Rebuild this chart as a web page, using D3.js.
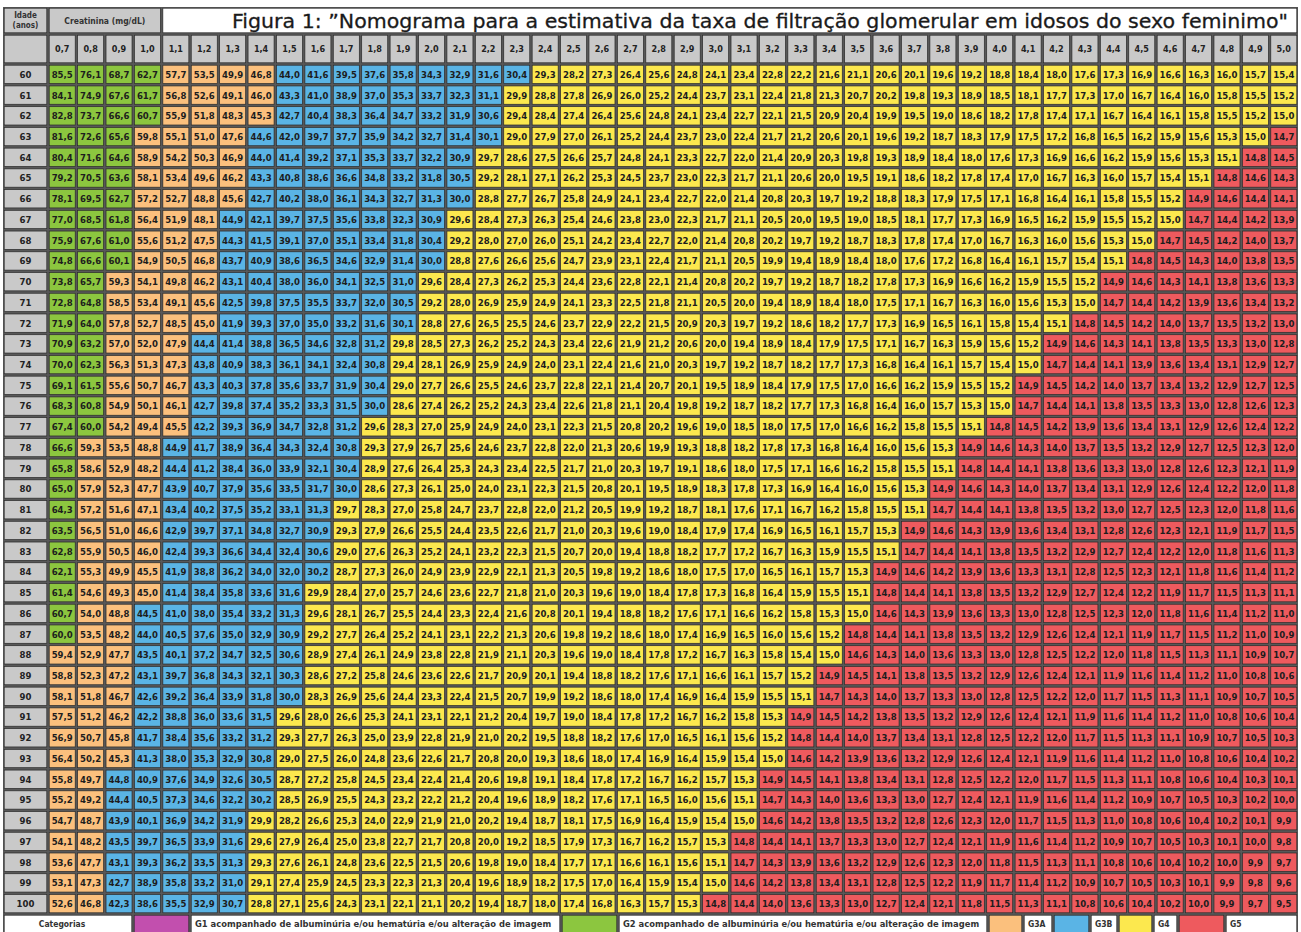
<!DOCTYPE html>
<html>
<head>
<meta charset="utf-8">
<script src="https://cdn.jsdelivr.net/npm/d3@7"></script>
<style>
  body { margin: 0; background: #fff; }
  text { font-family: "DejaVu Sans Condensed", "DejaVu Sans", sans-serif; }
</style>
</head>
<body>
<div id="chart"></div>
<script>
// rows: age (anos), columns: creatinina (mg/dL)
var ages = [60,61,62,63,64,65,66,67,68,69,70,71,72,73,74,75,76,77,78,79,80,
            81,82,83,84,85,86,87,88,89,90,91,92,93,94,95,96,97,98,99,100];
var creatinine = [0.7,0.8,0.9,1.0,1.1,1.2,1.3,1.4,1.5,1.6,1.7,1.8,1.9,2.0,2.1,2.2,2.3,2.4,2.5,2.6,2.7,
                  2.8,2.9,3.0,3.1,3.2,3.3,3.4,3.5,3.6,3.7,3.8,3.9,4.0,4.1,4.2,4.3,4.4,4.5,4.6,4.7,4.8,4.9,5.0];

// TFG estimada, one row per age
var egfr = [
[85.5,76.1,68.7,62.7,57.7,53.5,49.9,46.8,44.0,41.6,39.5,37.6,35.8,34.3,32.9,31.6,30.4,29.3,28.2,27.3,26.4,25.6,24.8,24.1,23.4,22.8,22.2,21.6,21.1,20.6,20.1,19.6,19.2,18.8,18.4,18.0,17.6,17.3,16.9,16.6,16.3,16.0,15.7,15.4],
[84.1,74.9,67.6,61.7,56.8,52.6,49.1,46.0,43.3,41.0,38.9,37.0,35.3,33.7,32.3,31.1,29.9,28.8,27.8,26.9,26.0,25.2,24.4,23.7,23.1,22.4,21.8,21.3,20.7,20.2,19.8,19.3,18.9,18.5,18.1,17.7,17.3,17.0,16.7,16.4,16.0,15.8,15.5,15.2],
[82.8,73.7,66.6,60.7,55.9,51.8,48.3,45.3,42.7,40.4,38.3,36.4,34.7,33.2,31.9,30.6,29.4,28.4,27.4,26.4,25.6,24.8,24.1,23.4,22.7,22.1,21.5,20.9,20.4,19.9,19.5,19.0,18.6,18.2,17.8,17.4,17.1,16.7,16.4,16.1,15.8,15.5,15.2,15.0],
[81.6,72.6,65.6,59.8,55.1,51.0,47.6,44.6,42.0,39.7,37.7,35.9,34.2,32.7,31.4,30.1,29.0,27.9,27.0,26.1,25.2,24.4,23.7,23.0,22.4,21.7,21.2,20.6,20.1,19.6,19.2,18.7,18.3,17.9,17.5,17.2,16.8,16.5,16.2,15.9,15.6,15.3,15.0,14.7],
[80.4,71.6,64.6,58.9,54.2,50.3,46.9,44.0,41.4,39.2,37.1,35.3,33.7,32.2,30.9,29.7,28.6,27.5,26.6,25.7,24.8,24.1,23.3,22.7,22.0,21.4,20.9,20.3,19.8,19.3,18.9,18.4,18.0,17.6,17.3,16.9,16.6,16.2,15.9,15.6,15.3,15.1,14.8,14.5],
[79.2,70.5,63.6,58.1,53.4,49.6,46.2,43.3,40.8,38.6,36.6,34.8,33.2,31.8,30.5,29.2,28.1,27.1,26.2,25.3,24.5,23.7,23.0,22.3,21.7,21.1,20.6,20.0,19.5,19.1,18.6,18.2,17.8,17.4,17.0,16.7,16.3,16.0,15.7,15.4,15.1,14.8,14.6,14.3],
[78.1,69.5,62.7,57.2,52.7,48.8,45.6,42.7,40.2,38.0,36.1,34.3,32.7,31.3,30.0,28.8,27.7,26.7,25.8,24.9,24.1,23.4,22.7,22.0,21.4,20.8,20.3,19.7,19.2,18.8,18.3,17.9,17.5,17.1,16.8,16.4,16.1,15.8,15.5,15.2,14.9,14.6,14.4,14.1],
[77.0,68.5,61.8,56.4,51.9,48.1,44.9,42.1,39.7,37.5,35.6,33.8,32.3,30.9,29.6,28.4,27.3,26.3,25.4,24.6,23.8,23.0,22.3,21.7,21.1,20.5,20.0,19.5,19.0,18.5,18.1,17.7,17.3,16.9,16.5,16.2,15.9,15.5,15.2,15.0,14.7,14.4,14.2,13.9],
[75.9,67.6,61.0,55.6,51.2,47.5,44.3,41.5,39.1,37.0,35.1,33.4,31.8,30.4,29.2,28.0,27.0,26.0,25.1,24.2,23.4,22.7,22.0,21.4,20.8,20.2,19.7,19.2,18.7,18.3,17.8,17.4,17.0,16.7,16.3,16.0,15.6,15.3,15.0,14.7,14.5,14.2,14.0,13.7],
[74.8,66.6,60.1,54.9,50.5,46.8,43.7,40.9,38.6,36.5,34.6,32.9,31.4,30.0,28.8,27.6,26.6,25.6,24.7,23.9,23.1,22.4,21.7,21.1,20.5,19.9,19.4,18.9,18.4,18.0,17.6,17.2,16.8,16.4,16.1,15.7,15.4,15.1,14.8,14.5,14.3,14.0,13.8,13.5],
[73.8,65.7,59.3,54.1,49.8,46.2,43.1,40.4,38.0,36.0,34.1,32.5,31.0,29.6,28.4,27.3,26.2,25.3,24.4,23.6,22.8,22.1,21.4,20.8,20.2,19.7,19.2,18.7,18.2,17.8,17.3,16.9,16.6,16.2,15.9,15.5,15.2,14.9,14.6,14.3,14.1,13.8,13.6,13.3],
[72.8,64.8,58.5,53.4,49.1,45.6,42.5,39.8,37.5,35.5,33.7,32.0,30.5,29.2,28.0,26.9,25.9,24.9,24.1,23.3,22.5,21.8,21.1,20.5,20.0,19.4,18.9,18.4,18.0,17.5,17.1,16.7,16.3,16.0,15.6,15.3,15.0,14.7,14.4,14.2,13.9,13.6,13.4,13.2],
[71.9,64.0,57.8,52.7,48.5,45.0,41.9,39.3,37.0,35.0,33.2,31.6,30.1,28.8,27.6,26.5,25.5,24.6,23.7,22.9,22.2,21.5,20.9,20.3,19.7,19.2,18.6,18.2,17.7,17.3,16.9,16.5,16.1,15.8,15.4,15.1,14.8,14.5,14.2,14.0,13.7,13.5,13.2,13.0],
[70.9,63.2,57.0,52.0,47.9,44.4,41.4,38.8,36.5,34.6,32.8,31.2,29.8,28.5,27.3,26.2,25.2,24.3,23.4,22.6,21.9,21.2,20.6,20.0,19.4,18.9,18.4,17.9,17.5,17.1,16.7,16.3,15.9,15.6,15.2,14.9,14.6,14.3,14.1,13.8,13.5,13.3,13.0,12.8],
[70.0,62.3,56.3,51.3,47.3,43.8,40.9,38.3,36.1,34.1,32.4,30.8,29.4,28.1,26.9,25.9,24.9,24.0,23.1,22.4,21.6,21.0,20.3,19.7,19.2,18.7,18.2,17.7,17.3,16.8,16.4,16.1,15.7,15.4,15.0,14.7,14.4,14.1,13.9,13.6,13.4,13.1,12.9,12.7],
[69.1,61.5,55.6,50.7,46.7,43.3,40.3,37.8,35.6,33.7,31.9,30.4,29.0,27.7,26.6,25.5,24.6,23.7,22.8,22.1,21.4,20.7,20.1,19.5,18.9,18.4,17.9,17.5,17.0,16.6,16.2,15.9,15.5,15.2,14.9,14.5,14.2,14.0,13.7,13.4,13.2,12.9,12.7,12.5],
[68.3,60.8,54.9,50.1,46.1,42.7,39.8,37.4,35.2,33.3,31.5,30.0,28.6,27.4,26.2,25.2,24.3,23.4,22.6,21.8,21.1,20.4,19.8,19.2,18.7,18.2,17.7,17.3,16.8,16.4,16.0,15.7,15.3,15.0,14.7,14.4,14.1,13.8,13.5,13.3,13.0,12.8,12.6,12.3],
[67.4,60.0,54.2,49.4,45.5,42.2,39.3,36.9,34.7,32.8,31.2,29.6,28.3,27.0,25.9,24.9,24.0,23.1,22.3,21.5,20.8,20.2,19.6,19.0,18.5,18.0,17.5,17.0,16.6,16.2,15.8,15.5,15.1,14.8,14.5,14.2,13.9,13.6,13.4,13.1,12.9,12.6,12.4,12.2],
[66.6,59.3,53.5,48.8,44.9,41.7,38.9,36.4,34.3,32.4,30.8,29.3,27.9,26.7,25.6,24.6,23.7,22.8,22.0,21.3,20.6,19.9,19.3,18.8,18.2,17.8,17.3,16.8,16.4,16.0,15.6,15.3,14.9,14.6,14.3,14.0,13.7,13.5,13.2,12.9,12.7,12.5,12.3,12.0],
[65.8,58.6,52.9,48.2,44.4,41.2,38.4,36.0,33.9,32.1,30.4,28.9,27.6,26.4,25.3,24.3,23.4,22.5,21.7,21.0,20.3,19.7,19.1,18.6,18.0,17.5,17.1,16.6,16.2,15.8,15.5,15.1,14.8,14.4,14.1,13.8,13.6,13.3,13.0,12.8,12.6,12.3,12.1,11.9],
[65.0,57.9,52.3,47.7,43.9,40.7,37.9,35.6,33.5,31.7,30.0,28.6,27.3,26.1,25.0,24.0,23.1,22.3,21.5,20.8,20.1,19.5,18.9,18.3,17.8,17.3,16.9,16.4,16.0,15.6,15.3,14.9,14.6,14.3,14.0,13.7,13.4,13.1,12.9,12.6,12.4,12.2,12.0,11.8],
[64.3,57.2,51.6,47.1,43.4,40.2,37.5,35.2,33.1,31.3,29.7,28.3,27.0,25.8,24.7,23.7,22.8,22.0,21.2,20.5,19.9,19.2,18.7,18.1,17.6,17.1,16.7,16.2,15.8,15.5,15.1,14.7,14.4,14.1,13.8,13.5,13.2,13.0,12.7,12.5,12.3,12.0,11.8,11.6],
[63.5,56.5,51.0,46.6,42.9,39.7,37.1,34.8,32.7,30.9,29.3,27.9,26.6,25.5,24.4,23.5,22.6,21.7,21.0,20.3,19.6,19.0,18.4,17.9,17.4,16.9,16.5,16.1,15.7,15.3,14.9,14.6,14.3,13.9,13.6,13.4,13.1,12.8,12.6,12.3,12.1,11.9,11.7,11.5],
[62.8,55.9,50.5,46.0,42.4,39.3,36.6,34.4,32.4,30.6,29.0,27.6,26.3,25.2,24.1,23.2,22.3,21.5,20.7,20.0,19.4,18.8,18.2,17.7,17.2,16.7,16.3,15.9,15.5,15.1,14.7,14.4,14.1,13.8,13.5,13.2,12.9,12.7,12.4,12.2,12.0,11.8,11.6,11.3],
[62.1,55.3,49.9,45.5,41.9,38.8,36.2,34.0,32.0,30.2,28.7,27.3,26.0,24.9,23.9,22.9,22.1,21.3,20.5,19.8,19.2,18.6,18.0,17.5,17.0,16.5,16.1,15.7,15.3,14.9,14.6,14.2,13.9,13.6,13.3,13.1,12.8,12.5,12.3,12.1,11.8,11.6,11.4,11.2],
[61.4,54.6,49.3,45.0,41.4,38.4,35.8,33.6,31.6,29.9,28.4,27.0,25.7,24.6,23.6,22.7,21.8,21.0,20.3,19.6,19.0,18.4,17.8,17.3,16.8,16.4,15.9,15.5,15.1,14.8,14.4,14.1,13.8,13.5,13.2,12.9,12.7,12.4,12.2,11.9,11.7,11.5,11.3,11.1],
[60.7,54.0,48.8,44.5,41.0,38.0,35.4,33.2,31.3,29.6,28.1,26.7,25.5,24.4,23.3,22.4,21.6,20.8,20.1,19.4,18.8,18.2,17.6,17.1,16.6,16.2,15.8,15.3,15.0,14.6,14.3,13.9,13.6,13.3,13.0,12.8,12.5,12.3,12.0,11.8,11.6,11.4,11.2,11.0],
[60.0,53.5,48.2,44.0,40.5,37.6,35.0,32.9,30.9,29.2,27.7,26.4,25.2,24.1,23.1,22.2,21.3,20.6,19.8,19.2,18.6,18.0,17.4,16.9,16.5,16.0,15.6,15.2,14.8,14.4,14.1,13.8,13.5,13.2,12.9,12.6,12.4,12.1,11.9,11.7,11.5,11.2,11.0,10.9],
[59.4,52.9,47.7,43.5,40.1,37.2,34.7,32.5,30.6,28.9,27.4,26.1,24.9,23.8,22.8,21.9,21.1,20.3,19.6,19.0,18.4,17.8,17.2,16.7,16.3,15.8,15.4,15.0,14.6,14.3,14.0,13.6,13.3,13.0,12.8,12.5,12.2,12.0,11.8,11.5,11.3,11.1,10.9,10.7],
[58.8,52.3,47.2,43.1,39.7,36.8,34.3,32.1,30.3,28.6,27.2,25.8,24.6,23.6,22.6,21.7,20.9,20.1,19.4,18.8,18.2,17.6,17.1,16.6,16.1,15.7,15.2,14.9,14.5,14.1,13.8,13.5,13.2,12.9,12.6,12.4,12.1,11.9,11.6,11.4,11.2,11.0,10.8,10.6],
[58.1,51.8,46.7,42.6,39.2,36.4,33.9,31.8,30.0,28.3,26.9,25.6,24.4,23.3,22.4,21.5,20.7,19.9,19.2,18.6,18.0,17.4,16.9,16.4,15.9,15.5,15.1,14.7,14.3,14.0,13.7,13.3,13.0,12.8,12.5,12.2,12.0,11.7,11.5,11.3,11.1,10.9,10.7,10.5],
[57.5,51.2,46.2,42.2,38.8,36.0,33.6,31.5,29.6,28.0,26.6,25.3,24.1,23.1,22.1,21.2,20.4,19.7,19.0,18.4,17.8,17.2,16.7,16.2,15.8,15.3,14.9,14.5,14.2,13.8,13.5,13.2,12.9,12.6,12.4,12.1,11.9,11.6,11.4,11.2,11.0,10.8,10.6,10.4],
[56.9,50.7,45.8,41.7,38.4,35.6,33.2,31.2,29.3,27.7,26.3,25.0,23.9,22.8,21.9,21.0,20.2,19.5,18.8,18.2,17.6,17.0,16.5,16.1,15.6,15.2,14.8,14.4,14.0,13.7,13.4,13.1,12.8,12.5,12.2,12.0,11.7,11.5,11.3,11.1,10.9,10.7,10.5,10.3],
[56.4,50.2,45.3,41.3,38.0,35.3,32.9,30.8,29.0,27.5,26.0,24.8,23.6,22.6,21.7,20.8,20.0,19.3,18.6,18.0,17.4,16.9,16.4,15.9,15.4,15.0,14.6,14.2,13.9,13.6,13.2,12.9,12.6,12.4,12.1,11.9,11.6,11.4,11.2,11.0,10.8,10.6,10.4,10.2],
[55.8,49.7,44.8,40.9,37.6,34.9,32.6,30.5,28.7,27.2,25.8,24.5,23.4,22.4,21.4,20.6,19.8,19.1,18.4,17.8,17.2,16.7,16.2,15.7,15.3,14.9,14.5,14.1,13.8,13.4,13.1,12.8,12.5,12.2,12.0,11.7,11.5,11.3,11.1,10.8,10.6,10.4,10.3,10.1],
[55.2,49.2,44.4,40.5,37.3,34.6,32.2,30.2,28.5,26.9,25.5,24.3,23.2,22.2,21.2,20.4,19.6,18.9,18.2,17.6,17.1,16.5,16.0,15.6,15.1,14.7,14.3,14.0,13.6,13.3,13.0,12.7,12.4,12.1,11.9,11.6,11.4,11.2,10.9,10.7,10.5,10.3,10.2,10.0],
[54.7,48.7,43.9,40.1,36.9,34.2,31.9,29.9,28.2,26.6,25.3,24.0,22.9,21.9,21.0,20.2,19.4,18.7,18.1,17.5,16.9,16.4,15.9,15.4,15.0,14.6,14.2,13.8,13.5,13.2,12.8,12.6,12.3,12.0,11.7,11.5,11.3,11.0,10.8,10.6,10.4,10.2,10.1,9.9],
[54.1,48.2,43.5,39.7,36.5,33.9,31.6,29.6,27.9,26.4,25.0,23.8,22.7,21.7,20.8,20.0,19.2,18.5,17.9,17.3,16.7,16.2,15.7,15.3,14.8,14.4,14.1,13.7,13.3,13.0,12.7,12.4,12.1,11.9,11.6,11.4,11.2,10.9,10.7,10.5,10.3,10.1,10.0,9.8],
[53.6,47.7,43.1,39.3,36.2,33.5,31.3,29.3,27.6,26.1,24.8,23.6,22.5,21.5,20.6,19.8,19.0,18.4,17.7,17.1,16.6,16.1,15.6,15.1,14.7,14.3,13.9,13.6,13.2,12.9,12.6,12.3,12.0,11.8,11.5,11.3,11.1,10.8,10.6,10.4,10.2,10.0,9.9,9.7],
[53.1,47.3,42.7,38.9,35.8,33.2,31.0,29.1,27.4,25.9,24.5,23.3,22.3,21.3,20.4,19.6,18.9,18.2,17.5,17.0,16.4,15.9,15.4,15.0,14.6,14.2,13.8,13.4,13.1,12.8,12.5,12.2,11.9,11.7,11.4,11.2,10.9,10.7,10.5,10.3,10.1,9.9,9.8,9.6],
[52.6,46.8,42.3,38.6,35.5,32.9,30.7,28.8,27.1,25.6,24.3,23.1,22.1,21.1,20.2,19.4,18.7,18.0,17.4,16.8,16.3,15.7,15.3,14.8,14.4,14.0,13.6,13.3,13.0,12.7,12.4,12.1,11.8,11.5,11.3,11.1,10.8,10.6,10.4,10.2,10.0,9.9,9.7,9.5]
];

// legend categories (KDIGO), lower bounds of each class
var categoryNames = ["G1 acompanhado de albuminúria e/ou hematúria e/ou alteração de imagem",
                     "G2 acompanhado de albuminúria e/ou hematúria e/ou alteração de imagem",
                     "G3A", "G3B", "G4", "G5"];
var categoryColors = ["#c24fae", "#8cc63f", "#fbc07d", "#5ab4e5", "#fce84e", "#ee5a5e"];
var categoryBreaks = [90, 60, 45, 30, 15];

var title = "Figura 1: \u201DNomograma para a estimativa da taxa de filtração glomerular em idosos do sexo feminimo\"";

var W = 1301, H = 932;
var gridColor = "#585858", headGrey = "#c9c9c9";

var svg = d3.select("#chart").append("svg")
    .attr("width", W)
    .attr("height", H);

var x = d3.scaleBand().domain(creatinine).range([48, 1298]);
var y = d3.scaleBand().domain(ages).range([64, 914]);

// value -> colour
var color = d3.scaleThreshold()
    .domain(categoryBreaks.slice().reverse())
    .range(categoryColors.slice().reverse());

var pt = d3.formatLocale({decimal: ",", thousands: ".", grouping: [3], currency: ["", ""]});
var f1 = pt.format(".1f");

// grid background
svg.append("rect")
    .attr("x", 3).attr("y", 7)
    .attr("width", 1295).attr("height", 930)
    .attr("fill", gridColor);

function cell(x0, y0, w, h, fill) {
  return svg.append("rect")
    .attr("x", x0 + 1.2).attr("y", y0 + 1.2)
    .attr("width", w - 2.4).attr("height", h - 2.4)
    .attr("fill", fill)
    .attr("stroke", "#2a2a2a")
    .attr("stroke-width", 0.7);
}

// first header row
cell(3, 7, 45, 27, headGrey);
svg.append("text").attr("x", 25.5).attr("y", 18)
  .attr("text-anchor", "middle").style("font-size", "8px").style("font-weight", "bold")
  .attr("fill", "#333").text("Idade");
svg.append("text").attr("x", 25.5).attr("y", 28)
  .attr("text-anchor", "middle").style("font-size", "8px").style("font-weight", "bold")
  .attr("fill", "#333").text("(anos)");

var creaRight = x(1.1);
cell(48, 7, creaRight - 48, 27, headGrey);
svg.append("text").attr("x", (48 + creaRight) / 2).attr("y", 24)
  .attr("text-anchor", "middle").style("font-size", "8.5px").style("font-weight", "bold")
  .attr("fill", "#333").text("Creatinina (mg/dL)");

cell(creaRight, 7, 1298 - creaRight, 27, "#fff");
svg.append("text").attr("x", 232).attr("y", 28)
  .attr("textLength", 1056).attr("lengthAdjust", "spacingAndGlyphs")
  .style("font-family", "'DejaVu Sans', sans-serif")
  .style("font-size", "20px").attr("fill", "#1a1a1a")
  .attr("stroke", "#1a1a1a").attr("stroke-width", 0.3)
  .text(title);

// column header row
cell(3, 34, 45, 30, headGrey);
creatinine.forEach(function(d) { cell(x(d), 34, x.bandwidth(), 30, headGrey); });
svg.append("g").selectAll("text")
  .data(creatinine).enter().append("text")
  .attr("x", function(d) { return x(d) + x.bandwidth() / 2; })
  .attr("y", 52)
  .attr("text-anchor", "middle")
  .style("font-size", "9px").style("font-weight", "bold")
  .attr("fill", "#222")
  .text(function(d) { return f1(d); });

// data rows
ages.forEach(function(age, r) {
  cell(3, y(age), 45, y.bandwidth(), headGrey);
  svg.append("text")
    .attr("x", 25.5).attr("y", y(age) + y.bandwidth() / 2)
    .attr("dy", "0.36em").attr("text-anchor", "middle")
    .style("font-size", "9.5px").style("font-weight", "bold")
    .attr("fill", "#222").text(age);

  var rowVals = egfr[r].map(function(v, i) { return {c: creatinine[i], v: v}; });
  var g = svg.append("g");
  g.selectAll("rect").data(rowVals).enter().append("rect")
    .attr("x", function(d) { return x(d.c) + 1.2; })
    .attr("y", y(age) + 1.2)
    .attr("width", x.bandwidth() - 2.4)
    .attr("height", y.bandwidth() - 2.4)
    .attr("fill", function(d) { return color(d.v); })
    .attr("stroke", "#2a2a2a")
    .attr("stroke-width", 0.7);
  g.selectAll("text").data(rowVals).enter().append("text")
    .attr("x", function(d) { return x(d.c) + x.bandwidth() / 2; })
    .attr("y", y(age) + y.bandwidth() / 2)
    .attr("dy", "0.36em").attr("text-anchor", "middle")
    .style("font-size", "9.5px").style("font-weight", "bold")
    .attr("fill", "#1d1d1d")
    .text(function(d) { return f1(d.v); });
});

// legend row
var ly = 914, lh = 18;
cell(3, ly, 130, lh + 2, "#fff");
svg.append("text").attr("x", 62).attr("y", ly + 12.5)
  .attr("text-anchor", "middle").style("font-size", "8.5px").style("font-weight", "bold")
  .attr("fill", "#333").text("Categorias");

// swatch / label slots along the row
var slots = [
  {sx: 133, sw: 57, tw: 371},
  {sx: 561, sw: 57, tw: 370},
  {sx: 988, sw: 35, tw: 30},
  {sx: 1053, sw: 37, tw: 28},
  {sx: 1118, sw: 35, tw: 25},
  {sx: 1178, sw: 47, tw: 73}
];
categoryNames.forEach(function(name, i) {
  var s = slots[i];
  cell(s.sx, ly, s.sw, lh + 2, categoryColors[i]);
  cell(s.sx + s.sw, ly, s.tw, lh + 2, "#fff");
  svg.append("text")
    .attr("x", s.sx + s.sw + 5).attr("y", ly + 12.5)
    .style("font-size", i < 2 ? "9.3px" : "8.5px").style("font-weight", "bold")
    .attr("fill", "#333").text(name);
});
</script>
</body>
</html>
